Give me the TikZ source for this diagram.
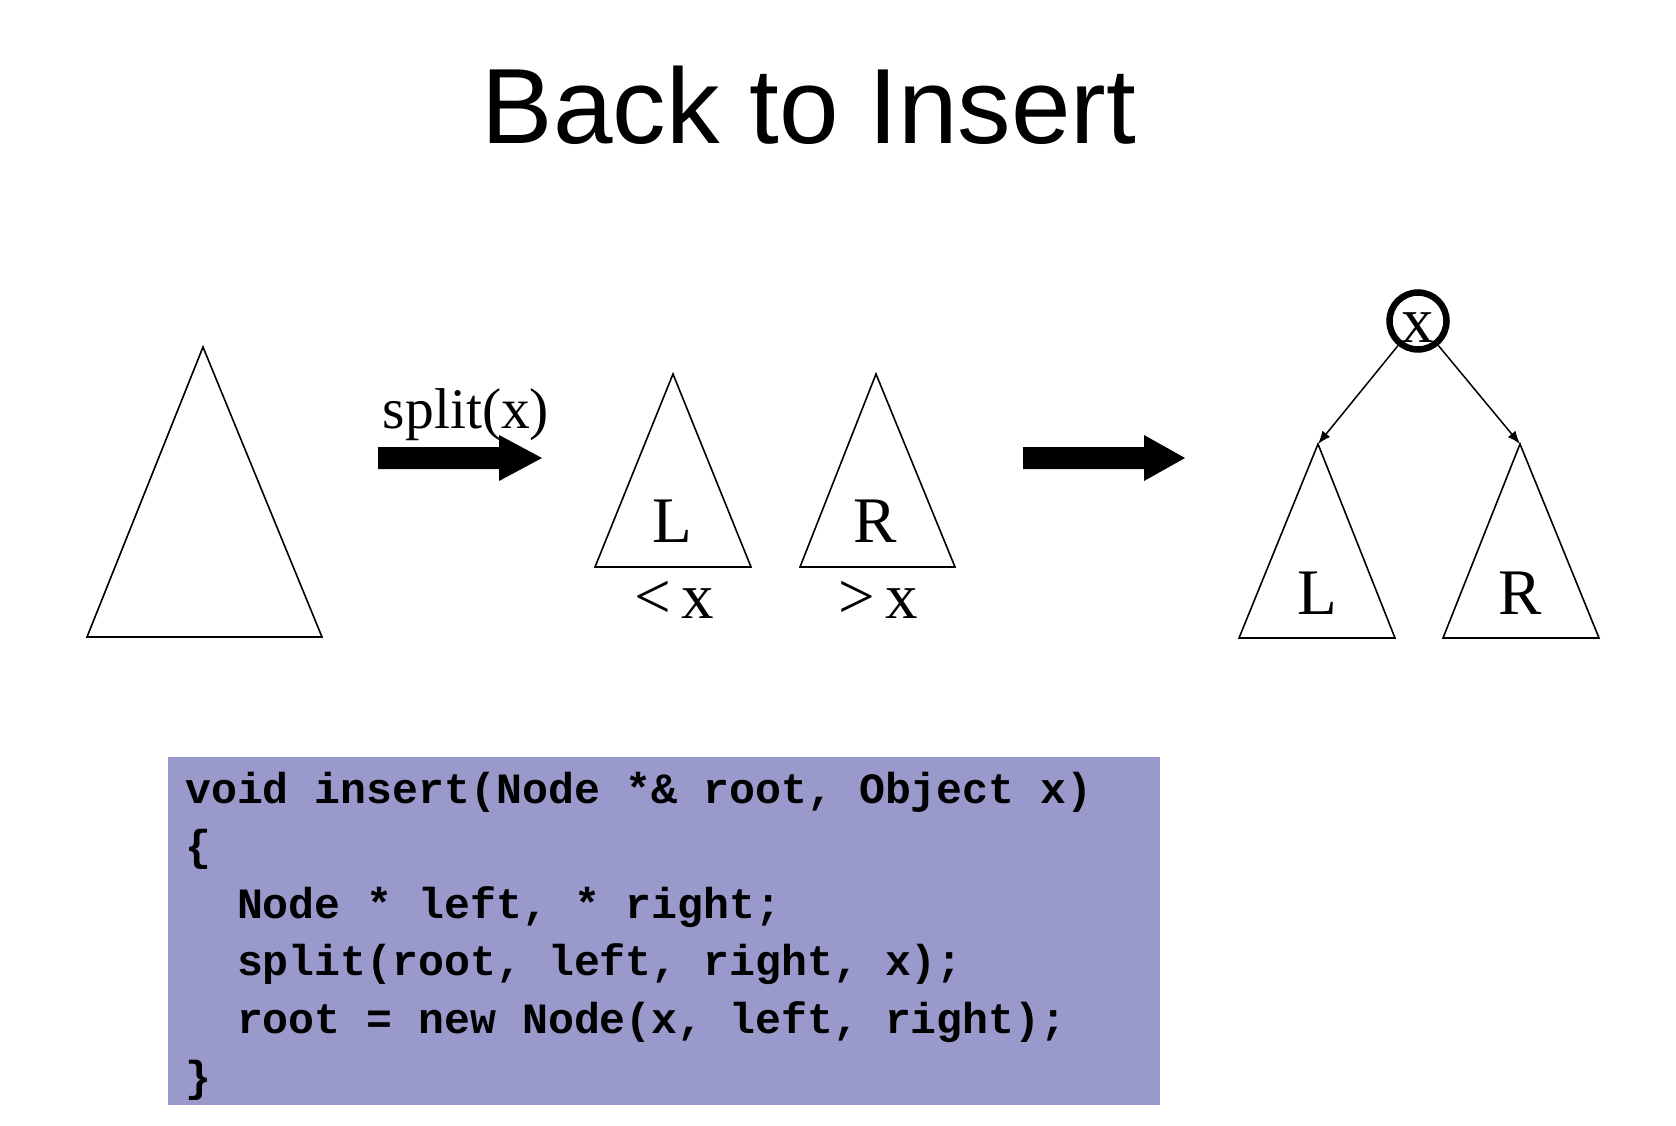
\documentclass[tikz,border=0pt]{standalone}
\usepackage{fontspec}
\setmainfont{Liberation Serif}
\newfontfamily\titlefont{Liberation Sans}
\newfontfamily\codefont{Liberation Mono}
\usetikzlibrary{arrows.meta}
\definecolor{codebg}{RGB}{153,153,204}

\begin{document}
\begin{tikzpicture}[x=1pt,y=-1pt,
  tri/.style={draw=black,line width=1.6pt,line join=miter},
  lbl/.style={inner sep=0pt,anchor=base,font=\fontsize{65}{70}\selectfont},
  blockarrow/.style={fill=black},
  childedge/.style={line width=1.5pt,-{Latex[length=13pt,width=10pt]}},
  codeline/.style={inner sep=0pt,anchor=base west,font=\codefont\bfseries\fontsize{43.2}{50}\selectfont}]

\useasboundingbox (0,0) rectangle (1676,1126);

% title
\node[inner sep=0pt,anchor=base,font=\titlefont\fontsize{107}{120}\selectfont] (title) at (809,144) {Back to Insert};

% the whole tree before splitting
\draw[tri] (203,347) -- (322,637) -- (87,637) -- cycle;

% split arrow
\fill[blockarrow] (378,447) -- (499,447) -- (499,435) -- (542,458) -- (499,481) -- (499,469) -- (378,469) -- cycle;
\node[inner sep=0pt,anchor=base,font=\fontsize{57.5}{62}\selectfont] (splitlbl) at (466,428) {split(x)};

% the two halves
\draw[tri] (673,374) -- (751,567) -- (595,567) -- cycle;
\draw[tri] (876,374) -- (955,567) -- (800,567) -- cycle;
\node[lbl] (midL) at (672,542) {L};
\node[lbl] (midR) at (875,542) {R};
\node[lbl] (lessx) at (674,618) {<\,x};
\node[lbl] (morex) at (878,618) {>\,x};

% second arrow
\fill[blockarrow] (1023,447) -- (1144,447) -- (1144,435) -- (1185,458) -- (1144,481) -- (1144,469) -- (1023,469) -- cycle;

% new root with the two subtrees
\node[circle,draw=black,line width=6.5pt,minimum size=57pt,inner sep=0pt] (root) at (1418,321) {};
\node[lbl] (rootx) at (1418,342) {x};
\coordinate (lapex) at (1318,444);
\coordinate (rapex) at (1520,444);
\draw[tri] (lapex) -- (1395,638) -- (1239,638) -- cycle;
\draw[tri] (rapex) -- (1599,638) -- (1443,638) -- cycle;
\node[lbl] (rightL) at (1317,614) {L};
\node[lbl] (rightR) at (1520,614) {R};
\draw[childedge] (root) -- (lapex);
\draw[childedge] (root) -- (rapex);

% code listing
\fill[codebg] (168,757) rectangle (1160,1105);
\node[codeline] (c1) at (185,803) {void insert(Node *\& root, Object x)};
\node[codeline] (c2) at (185,860.6) {\{};
\node[codeline] (c3) at (185,918.2) {\phantom{NN}Node * left, * right;};
\node[codeline] (c4) at (185,975.8) {\phantom{NN}split(root, left, right, x);};
\node[codeline] (c5) at (185,1033.4) {\phantom{NN}root = new Node(x, left, right);};
\node[codeline] (c6) at (185,1091) {\}};
\end{tikzpicture}
\end{document}
